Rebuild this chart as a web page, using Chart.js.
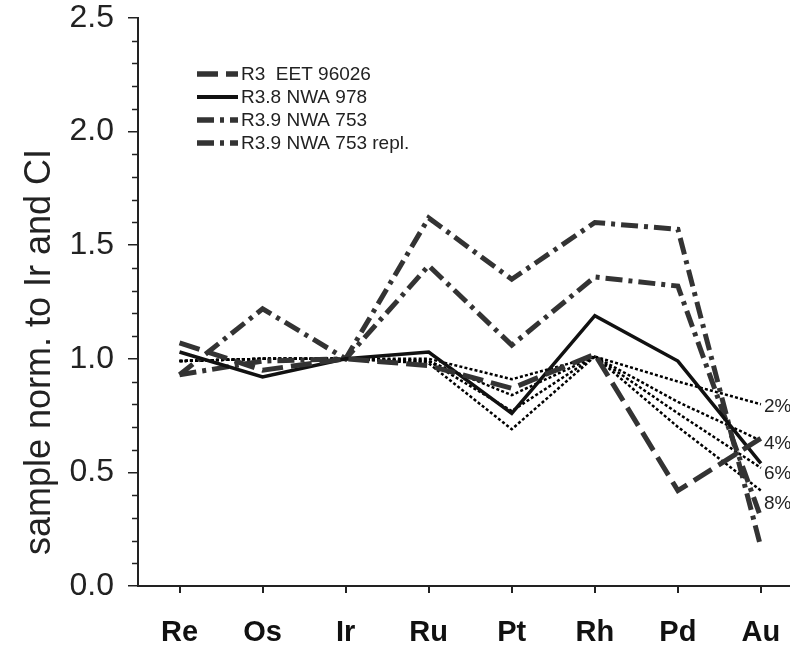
<!DOCTYPE html>
<html><head><meta charset="utf-8">
<script src="https://cdn.jsdelivr.net/npm/chart.js@4.4.1/dist/chart.umd.min.js"></script>
<style>html,body{margin:0;padding:0;background:#fff;} #c{display:block;}</style>
</head><body>
<canvas id="c" width="790" height="651"></canvas>
<script>
const categories = ['Re','Os','Ir','Ru','Pt','Rh','Pd','Au'];
const eet96026   = [1.07,0.95,1.00,0.97,0.87,1.02,0.42,0.65];
const nwa978     = [1.03,0.92,1.00,1.03,0.76,1.19,0.99,0.54];
const nwa753     = [0.93,1.22,1.00,1.41,1.06,1.36,1.32,0.30];
const nwa753repl = [0.93,0.99,1.00,1.62,1.35,1.60,1.57,0.17];
const model2 = [0.99,1.00,1.00,1.00,0.91,1.01,0.90,0.80];
const model4 = [0.99,1.00,1.00,0.99,0.84,1.01,0.81,0.64];
const model6 = [0.99,1.00,1.00,0.99,0.77,1.01,0.76,0.52];
const model8 = [0.99,1.00,1.00,0.98,0.69,1.01,0.70,0.42];
const modelLabels = ['2%','4%','6%','8%'];
const seriesLabels = ['R3  EET 96026','R3.8 NWA 978','R3.9 NWA 753','R3.9 NWA 753 repl.'];
const yTitle = 'sample norm. to Ir and CI';

const toPts = arr => arr.map((v,i)=>({x:i,y:v}));
const grey = '#333333';
const dashDot = [17,6,4,6];
const FONT = 'Arial, "Liberation Sans", Helvetica, sans-serif';

const datasets = [
  {label: seriesLabels[0], data: toPts(eet96026), borderColor: grey, borderWidth: 5, borderDash: [21,8]},
  {label: seriesLabels[1], data: toPts(nwa978), borderColor: '#111111', borderWidth: 3.5, borderDash: []},
  {label: seriesLabels[2], data: toPts(nwa753), borderColor: grey, borderWidth: 5, borderDash: dashDot},
  {label: seriesLabels[3], data: toPts(nwa753repl), borderColor: grey, borderWidth: 5, borderDash: dashDot},
  {label: modelLabels[0], data: toPts(model2), borderColor: '#000', borderWidth: 2.5, borderDash: [3,2.2], model: true},
  {label: modelLabels[1], data: toPts(model4), borderColor: '#000', borderWidth: 2.5, borderDash: [3,2.2], model: true},
  {label: modelLabels[2], data: toPts(model6), borderColor: '#000', borderWidth: 2.5, borderDash: [3,2.2], model: true},
  {label: modelLabels[3], data: toPts(model8), borderColor: '#000', borderWidth: 2.5, borderDash: [3,2.2], model: true},
].map(d => Object.assign({pointRadius: 0, tension: 0, fill: false, borderCapStyle: 'butt', borderJoinStyle: 'miter'}, d));

const decor = {
  id: 'decor',
  afterDraw(chart) {
    const ctx = chart.ctx, ys = chart.scales.y, xs = chart.scales.x;
    ctx.save();
    // minor y ticks
    ctx.strokeStyle = '#222'; ctx.lineWidth = 1.5;
    for (let i = 1; i < 25; i++) {
      if (i % 5 === 0) continue;
      const py = Math.round(ys.getPixelForValue(i / 10)) + 0.5;
      ctx.beginPath(); ctx.moveTo(ys.right - 6, py); ctx.lineTo(ys.right, py); ctx.stroke();
    }
    // y title
    ctx.fillStyle = '#222';
    ctx.font = '36px ' + FONT;
    ctx.textAlign = 'center'; ctx.textBaseline = 'middle';
    ctx.translate(40, 352); ctx.rotate(-Math.PI / 2);
    ctx.fillText(yTitle, 0, 0);
    ctx.setTransform(1,0,0,1,0,0);
    // legend
    ctx.font = '19px ' + FONT;
    ctx.textAlign = 'left'; ctx.textBaseline = 'middle';
    chart.data.datasets.slice(0,4).forEach((d, i) => {
      const ry = 74 + i * 23;
      ctx.strokeStyle = d.borderColor; ctx.lineWidth = d.borderWidth + 0.5;
      ctx.setLineDash(d.borderDash);
      ctx.beginPath(); ctx.moveTo(197, ry); ctx.lineTo(238, ry); ctx.stroke();
      ctx.setLineDash([]);
      ctx.fillStyle = '#222';
      ctx.fillText(d.label, 241, ry + 1);
    });
    // model labels
    ctx.font = '19px ' + FONT;
    let prev = -Infinity;
    const last = categories.length - 1;
    chart.data.datasets.filter(d => d.model).forEach(d => {
      let py = ys.getPixelForValue(d.data[last].y) + 3;
      py = Math.max(py, prev + 30);
      prev = py;
      ctx.fillStyle = '#222';
      ctx.fillText(d.label, xs.getPixelForValue(last) + 3, py);
    });
    ctx.restore();
  }
};

new Chart(document.getElementById('c'), {
  type: 'line',
  data: {datasets},
  options: {
    responsive: false, animation: false, devicePixelRatio: 1,
    layout: {padding: {top: 18, left: 0, right: 0, bottom: 0}},
    plugins: {legend: {display: false}, tooltip: {enabled: false}},
    scales: {
      x: {
        type: 'linear', min: -0.5, max: 7.35,
        afterBuildTicks: s => { s.ticks = categories.map((_, i) => ({value: i})); },
        afterFit: s => { s.height = 65; s.paddingLeft = 0; s.paddingRight = 0; },
        grid: {drawOnChartArea: false, drawTicks: true, tickLength: 7, color: '#222', lineWidth: 2},
        border: {display: true, color: '#222', width: 2},
        ticks: {padding: 23, color: '#111', font: {family: FONT, size: 29, weight: 'bold'},
          callback: v => categories[v], maxRotation: 0, autoSkip: false}
      },
      y: {
        min: 0, max: 2.5,
        afterBuildTicks: s => { s.ticks = [0,0.5,1,1.5,2,2.5].map(v => ({value: v})); },
        afterFit: s => { s.width = 138; s.paddingTop = 0; s.paddingBottom = 0; },
        grid: {drawOnChartArea: false, drawTicks: true, tickLength: 10, color: '#222', lineWidth: 1.5},
        border: {display: true, color: '#222', width: 2},
        ticks: {padding: 14, color: '#222', font: {family: FONT, size: 32},
          callback: v => Number(v).toFixed(1)}
      }
    }
  },
  plugins: [decor]
});
</script>
</body></html>
